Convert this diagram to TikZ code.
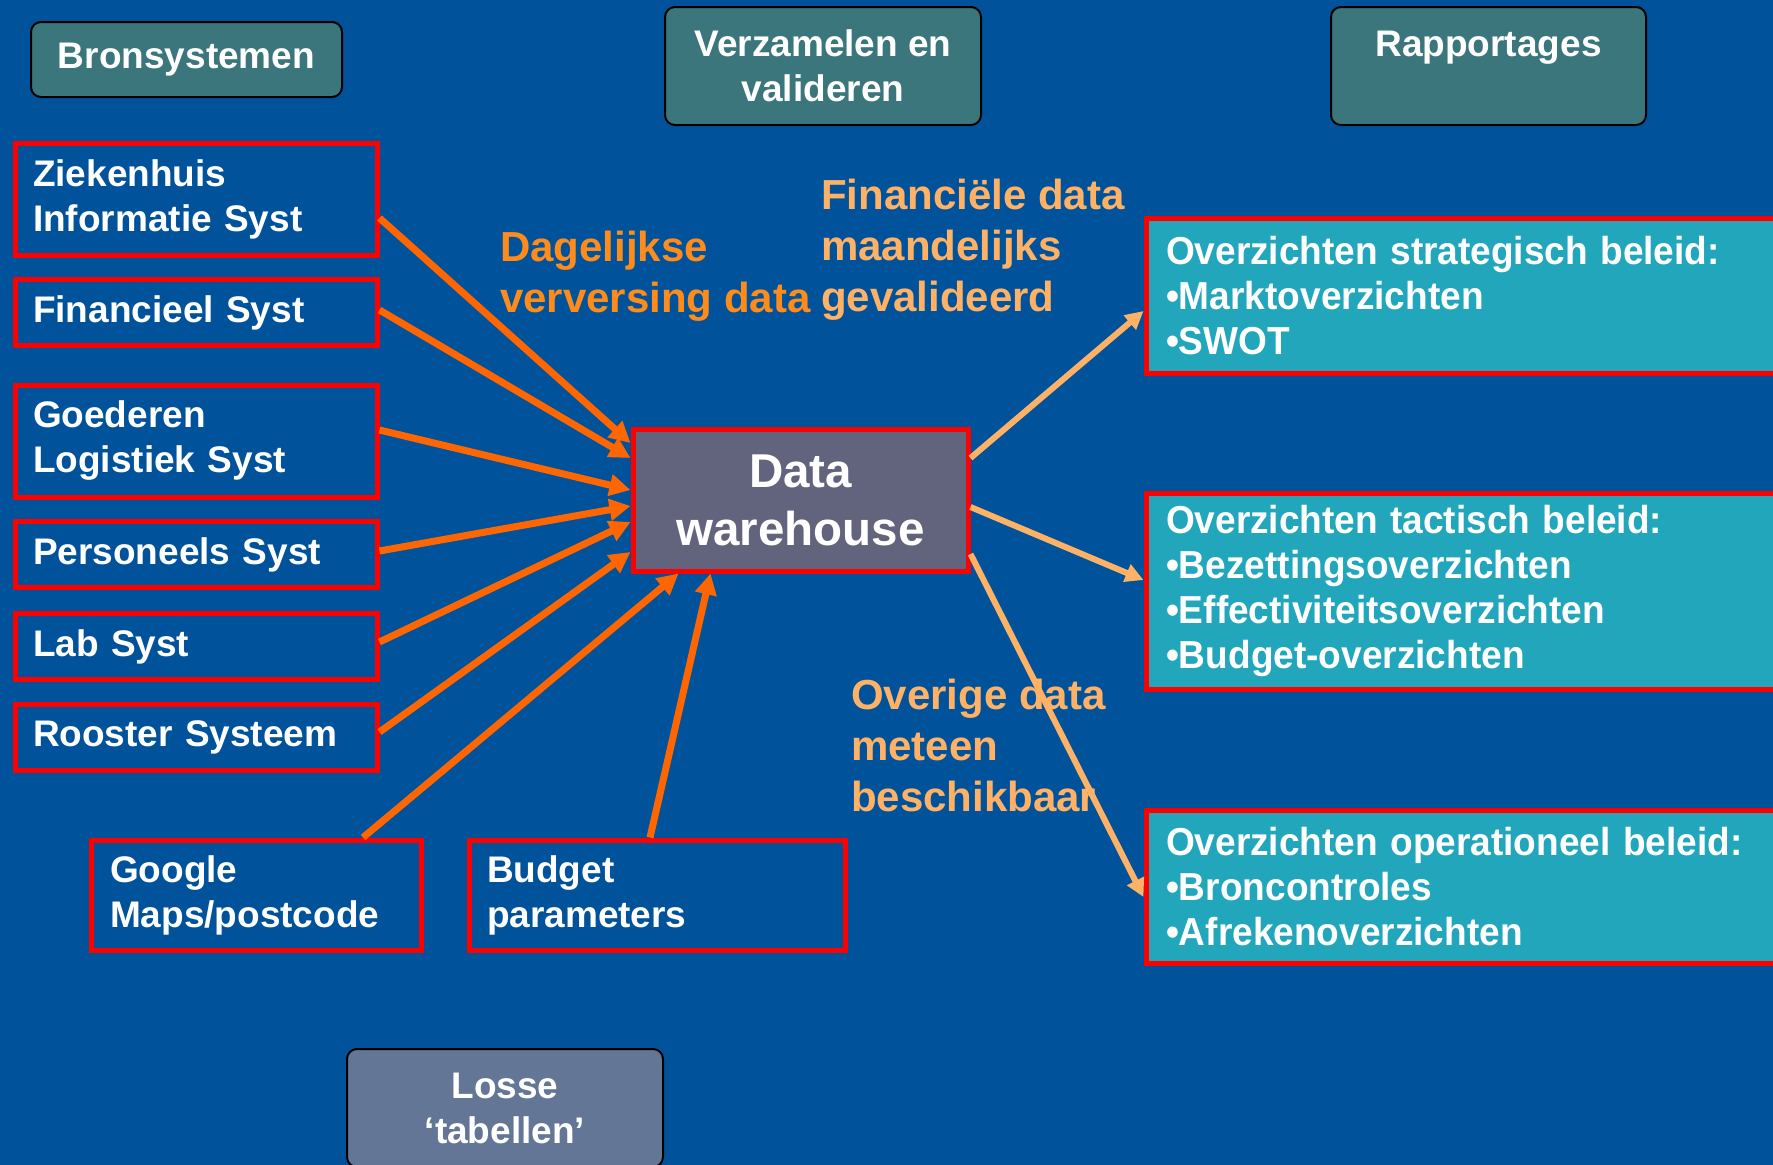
\documentclass[tikz,border=0pt]{standalone}
\usepackage{fontspec}
\setmainfont{Liberation Sans}
\usepackage{graphicx}
\usepackage{xcolor}
\usepackage{tikz}
\usetikzlibrary{arrows.meta,calc}

\definecolor{bgblue}{RGB}{0,83,155}
\definecolor{headfill}{RGB}{58,118,124}
\definecolor{lossefill}{RGB}{100,118,150}
\definecolor{dwfill}{RGB}{98,100,126}
\definecolor{repfill}{RGB}{34,166,188}
\definecolor{arrdark}{RGB}{255,102,0}
\definecolor{arrlight}{RGB}{255,178,102}
\definecolor{lbldarkc}{RGB}{255,140,26}

\newcommand{\squeeze}[1]{\scalebox{0.95}[1]{#1}}

\tikzset{
  headbox/.style={draw=black, line width=2pt, rounded corners=10pt, fill=headfill,
    text=white, align=center, font=\bfseries\fontsize{37}{45}\selectfont},
  srcbox/.style={draw=red, line width=5pt, minimum height=66pt, text width=326pt,
    inner xsep=18pt, align=left, text=white, font=\bfseries\fontsize{37}{45}\selectfont},
  dwbox/.style={draw=red, line width=5pt, fill=dwfill, minimum width=335pt, minimum height=142pt,
    align=center, text=white, font=\bfseries\fontsize{47.5}{58}\selectfont},
  repbox/.style={draw=red, line width=5pt, fill=repfill, text width=614pt, inner xsep=20pt,
    align=left, text=white, font=\bfseries\fontsize{39}{45}\selectfont},
  lbldark/.style={inner sep=0pt, align=left, text=lbldarkc, font=\bfseries\fontsize{42}{51}\selectfont},
  lbllight/.style={inner sep=0pt, align=left, text=arrlight, font=\bfseries\fontsize{42}{51}\selectfont},
  inarrow/.style={draw=arrdark, line width=7pt, -{Triangle[length=21pt,width=21pt]}},
  outarrow/.style={draw=arrlight, line width=6pt, -{Triangle[length=18pt,width=18pt]}}
}

\begin{document}
\begin{tikzpicture}[x=1pt,y=1pt,yscale=-1,xscale=1]
\useasboundingbox (0,0) rectangle (1773,1165);
\clip (0,0) rectangle (1773,1165);
%Shape: Background
\fill[bgblue] (0,0) rectangle (1773,1165);

%Shape: Rounded Rect (headers)
\node[headbox, minimum width=311pt, minimum height=75pt] (hbron) at (186.5,59.5) {Bronsystemen};
\node[headbox, minimum width=316pt, minimum height=118pt] (hverz) at (823,66) {Verzamelen en\\valideren};
\node[headbox, minimum width=315pt, minimum height=118pt] (hrapp) at (1488.5,66) {Rapportages\\~};
\node[headbox, fill=lossefill, minimum width=316pt, minimum height=118pt] (hlosse) at (505,1108) {Losse\\‘tabellen’};

%Shape: Rectangle (bronnen)
\node[srcbox, minimum height=112pt] (zis) at (196,199.5) {Ziekenhuis\\Informatie Syst};
\node[srcbox] (fin) at (196,312.5) {Financieel Syst};
\node[srcbox, minimum height=112pt] (goed) at (196,441) {Goederen\\Logistiek Syst};
\node[srcbox] (pers) at (196,554.5) {Personeels Syst};
\node[srcbox] (lab) at (196,646.5) {Lab Syst};
\node[srcbox] (roost) at (196,737) {Rooster Systeem};
\node[srcbox, minimum height=110pt, text width=292pt, inner xsep=19pt] (google) at (256,895) {Google\\Maps/postcode};
\node[srcbox, minimum height=110pt, text width=340pt] (budget) at (657,895) {Budget\\parameters};

%Shape: Rectangle (warehouse)
\node[dwbox] (dw) at (800.5,500) {Data\\warehouse};

%Shape: Rectangle (rapportages)
\node[repbox, minimum height=155pt] (rstrat) at (1473,295.5) {\squeeze{Overzichten strategisch beleid:}\\\squeeze{•Marktoverzichten}\\\squeeze{•SWOT}};
\node[repbox, minimum height=196pt] (rtact) at (1473,591) {\squeeze{Overzichten tactisch beleid:}\\\squeeze{•Bezettingsoverzichten}\\\squeeze{•Effectiviteitsoverzichten}\\\squeeze{•Budget-overzichten}};
\node[repbox, minimum height=153pt] (roper) at (1473,886.5) {\squeeze{Overzichten operationeel beleid:}\\\squeeze{•Broncontroles}\\\squeeze{•Afrekenoverzichten}};

% Text Node
\node[lbldark, anchor=west] (ldag) at (500,276) {Dagelijkse\\verversing data};
% Text Node
\node[lbllight, anchor=west] (lfin) at (821,250) {Financiële data\\maandelijks\\gevalideerd};
% Text Node
\node[lbllight, anchor=west] (lover) at (851,745) {Overige data\\meteen\\beschikbaar};

%Straight Lines (in)
\draw[inarrow] ($(zis.east)+(0,18.5)$) -- ($(dw.west)+(0,-57)$);
\draw[inarrow] ($(fin.east)+(0,-2.5)$) -- ($(dw.west)+(0,-42)$);
\draw[inarrow] ($(goed.east)+(0,-11)$) -- ($(dw.west)+(0,-10)$);
\draw[inarrow] ($(pers.east)+(0,-3.5)$) -- ($(dw.west)+(0,6)$);
\draw[inarrow] ($(lab.east)+(0,-4.5)$) -- ($(dw.west)+(0,22)$);
\draw[inarrow] ($(roost.east)+(0,-5)$) -- ($(dw.west)+(0,52)$);
\draw[inarrow] ($(google.north)+(107,0)$) -- ($(dw.south)+(-122,0)$);
\draw[inarrow] ($(budget.north)+(-7,0)$) -- ($(dw.south)+(-90,0)$);

%Straight Lines (out)
\draw[outarrow] ($(dw.east)+(0,-42)$) -- ($(rstrat.west)+(0,15.5)$);
\draw[outarrow] ($(dw.east)+(0,7)$) -- ($(rtact.west)+(0,-11)$);
\draw[outarrow] ($(dw.east)+(0,54)$) -- ($(roper.west)+(0,10.5)$);

\end{tikzpicture}
\end{document}
